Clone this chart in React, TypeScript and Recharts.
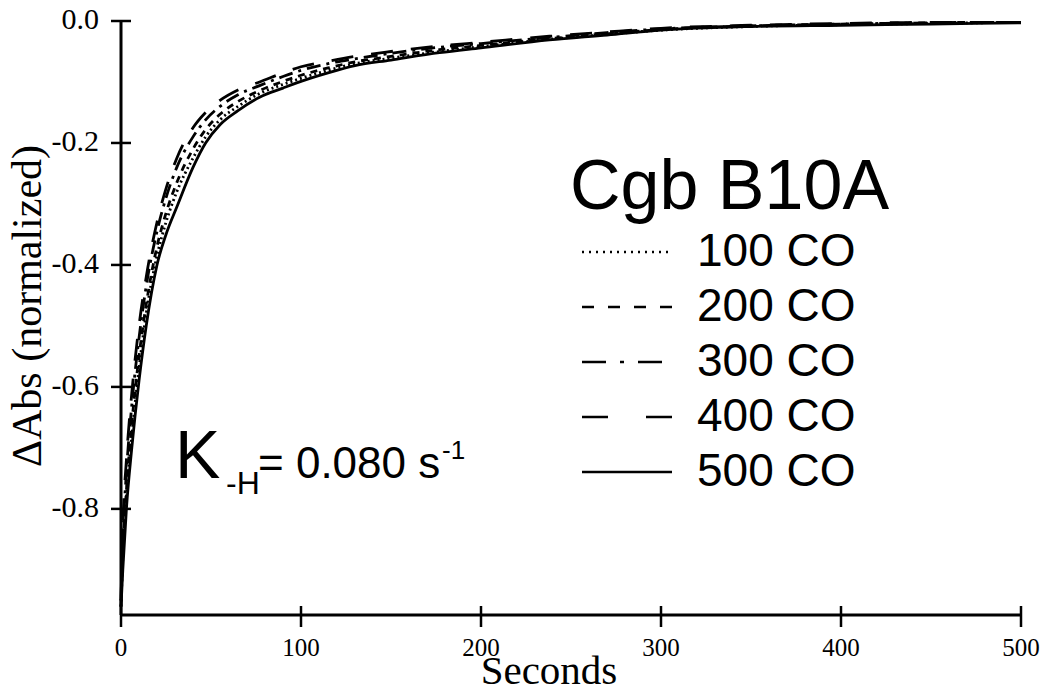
import { LineChart, Line, XAxis, YAxis, Legend, Customized } from 'recharts';

// time points (seconds)
const times = [0, 1, 3, 6, 10, 14, 20, 25, 31, 40, 47, 55, 65, 77, 90, 100, 115, 130, 150, 177, 200, 238, 270, 300, 350, 400, 450, 500];

// normalized absorbance change for each CO concentration
const co100 = [-0.96, -0.88, -0.78, -0.68, -0.57, -0.48, -0.385, -0.33, -0.28, -0.225, -0.19, -0.162, -0.14, -0.119, -0.104, -0.094, -0.081, -0.07, -0.061, -0.05, -0.042, -0.03, -0.022, -0.015, -0.009, -0.006, -0.004, -0.002];
const co200 = [-0.96, -0.87, -0.77, -0.66, -0.55, -0.465, -0.37, -0.315, -0.265, -0.21, -0.178, -0.153, -0.132, -0.114, -0.099, -0.089, -0.077, -0.067, -0.058, -0.047, -0.04, -0.029, -0.021, -0.014, -0.008, -0.005, -0.003, -0.001];
const co300 = [-0.95, -0.85, -0.74, -0.63, -0.52, -0.435, -0.345, -0.29, -0.24, -0.19, -0.162, -0.14, -0.121, -0.106, -0.091, -0.081, -0.07, -0.062, -0.053, -0.043, -0.037, -0.027, -0.019, -0.013, -0.008, -0.005, -0.003, -0.001];
const co400 = [-0.95, -0.83, -0.72, -0.61, -0.5, -0.42, -0.33, -0.275, -0.225, -0.175, -0.15, -0.13, -0.113, -0.1, -0.085, -0.075, -0.066, -0.058, -0.05, -0.041, -0.035, -0.025, -0.018, -0.012, -0.007, -0.004, -0.002, 0];
const co500 = [-0.96, -0.9, -0.8, -0.7, -0.59, -0.5, -0.4, -0.35, -0.305, -0.24, -0.2, -0.17, -0.147, -0.125, -0.11, -0.099, -0.085, -0.073, -0.064, -0.052, -0.044, -0.031, -0.023, -0.015, -0.009, -0.007, -0.005, -0.003];

const xTicks = [0, 100, 200, 300, 400, 500];
const yTicks = [0, -0.2, -0.4, -0.6, -0.8];

const series = [
  { key: 'co100', name: '100 CO', values: co100, dash: '2 3', legendDash: '2 5' },
  { key: 'co200', name: '200 CO', values: co200, dash: '7 6', legendDash: '12 14' },
  { key: 'co300', name: '300 CO', values: co300, dash: '14 6 3 6', legendDash: '24 14 4 14' },
  { key: 'co400', name: '400 CO', values: co400, dash: '22 18', legendDash: '26 38' },
  { key: 'co500', name: '500 CO', values: co500, dash: undefined, legendDash: undefined },
];

const data = times.map((t, i) => {
  const row: Record<string, number> = { t };
  series.forEach((s) => { row[s.key] = s.values[i]; });
  return row;
});

const serif = '"Liberation Serif", "Times New Roman", serif';
const sans = '"Liberation Sans", Arial, sans-serif';

const YTick = (props: any) => {
  const { x, y, payload } = props;
  return (
    <g>
      <line x1={x} x2={x + 20} y1={y} y2={y} stroke="#000" strokeWidth={2.5} />
      <text
        x={x - 12}
        y={y + 8}
        textAnchor="end"
        style={{ fontFamily: serif, fontSize: '30px' }}
        fill="#000"
      >
        {payload.value.toFixed(1)}
      </text>
    </g>
  );
};

const XTick = (props: any) => {
  const { x, y, payload } = props;
  return (
    <g>
      <line x1={x} x2={x} y1={y - 19} y2={y + 2} stroke="#000" strokeWidth={2.5} />
      <text x={x} y={y + 31} textAnchor="middle" style={{ fontFamily: serif, fontSize: '25px' }} fill="#000">
        {payload.value}
      </text>
    </g>
  );
};

const Annotations = () => (
  <g>
    <text x={41} y={306} transform="rotate(-90, 41, 306)" textAnchor="middle" fontFamily={serif} fontSize={42} fill="#000">
      ΔAbs (normalized)
    </text>
    <text x={549} y={684} textAnchor="middle" fontFamily={serif} fontSize={41} fill="#000">
      Seconds
    </text>
    <text fontFamily={sans} fill="#000">
      <tspan x={175} y={478} fontSize={68}>K</tspan>
      <tspan x={226} y={494} fontSize={32}>-H</tspan>
      <tspan x={258} y={478} fontSize={44}>= 0.080 s</tspan>
      <tspan x={442} y={459} fontSize={26}>-1</tspan>
    </text>
  </g>
);

const renderLegend = () => (
  <div style={{ fontFamily: sans, color: '#000' }}>
    <div style={{ fontSize: 70, lineHeight: '70px', whiteSpace: 'nowrap' }}>Cgb B10A</div>
    <div style={{ marginTop: 3 }}>
      {series.map((s) => (
        <div key={s.key} style={{ display: 'flex', alignItems: 'flex-start', height: 55, paddingLeft: 12 }}>
          <svg width={90} height={55} style={{ marginRight: 25, flex: 'none' }}>
            <line x1={0} x2={90} y1={29} y2={29} stroke="#000" strokeWidth={2.5} strokeDasharray={s.legendDash} />
          </svg>
          <span style={{ fontSize: 46, lineHeight: '55px', whiteSpace: 'nowrap' }}>{s.name}</span>
        </div>
      ))}
    </div>
  </div>
);

export default function App() {
  return (
    <div style={{ position: 'absolute', left: 0, top: 0, background: '#fff' }}>
      <LineChart width={1049} height={693} data={data} margin={{ top: 21, right: 28, bottom: 0, left: 0 }}>
        <XAxis
          dataKey="t"
          type="number"
          domain={[0, 500]}
          ticks={xTicks}
          height={78}
          axisLine={{ stroke: '#000', strokeWidth: 3 }}
          tickLine={false}
          tickSize={10}
          tickMargin={0}
          tick={<XTick />}
          interval={0}
        />
        <YAxis
          type="number"
          domain={[-0.974, 0]}
          ticks={yTicks}
          width={121}
          allowDataOverflow
          axisLine={{ stroke: '#000', strokeWidth: 3 }}
          tickLine={false}
          tickSize={10}
          tickMargin={0}
          tick={<YTick />}
          interval={0}
        />
        <Legend
          layout="horizontal"
          verticalAlign="middle"
          align="center"
          content={renderLegend}
          wrapperStyle={{ position: 'absolute', top: 150, left: 570, width: 380 }}
        />
        {series.map((s) => (
          <Line
            key={s.key}
            dataKey={s.key}
            name={s.name}
            type="monotone"
            stroke="#000"
            strokeWidth={2.8}
            strokeDasharray={s.dash}
            dot={false}
            activeDot={false}
            isAnimationActive={false}
          />
        ))}
        <Customized component={Annotations} />
      </LineChart>
    </div>
  );
}
